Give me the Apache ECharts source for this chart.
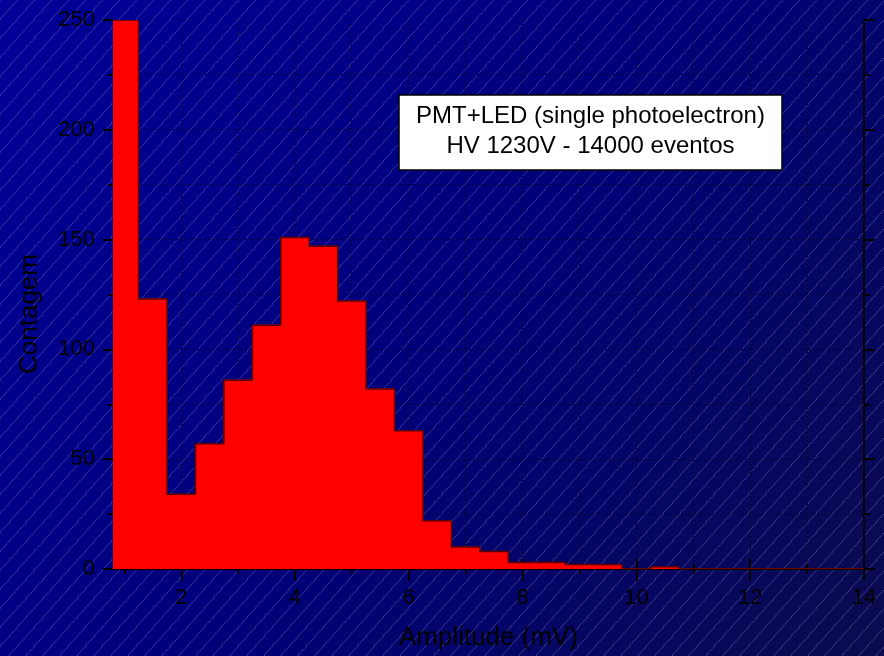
<!DOCTYPE html>
<html>
<head>
<meta charset="utf-8">
<script src="https://cdn.jsdelivr.net/npm/echarts@6/dist/echarts.min.js"></script>
<style>
  html, body { margin: 0; padding: 0; background: #000080; }
  #chart { width: 884px; height: 656px; }
</style>
</head>
<body>
<div id="chart"></div>
<script>
// Pulse-height histogram: bin centres (mV) and counted events per 0.5 mV bin
const binCenters = [1.0, 1.5, 2.0, 2.5, 3.0, 3.5, 4.0, 4.5, 5.0, 5.5, 6.0, 6.5, 7.0, 7.5,
                    8.0, 8.5, 9.0, 9.5, 10.0, 10.5, 11.0, 11.5, 12.0, 12.5, 13.0, 13.5, 14.0];
const counts     = [250, 123, 34, 57, 86, 111, 151, 147, 122, 82, 63, 22, 10, 8,
                    3, 3, 2, 2, 0, 1, 0, 0, 0, 0, 0, 0, 0];
const BIN_WIDTH = 0.5;

// Axis ranges, tick positions and dotted grid positions
const X_MIN = 0.8, X_MAX = 14;
const xMajorTicks = [2, 4, 6, 8, 10, 12, 14];
const xMinorTicks = [1, 2, 3, 4, 5, 6, 7, 8, 9, 10, 11, 12, 13];
const xGridValues = [1, 2, 3, 4, 5, 6, 7, 8, 9, 10, 11, 12, 13];
const Y_MIN = 0, Y_MAX = 250, Y_MAJOR = 50, Y_MINOR = 25;
const yGridValues = [25, 50, 75, 100, 125, 150, 175, 200, 225];

const titleText = ['PMT+LED (single photoelectron)', 'HV 1230V - 14000 eventos'];
const xName = 'Amplitude (mV)';
const yName = 'Contagem';

const FONT = '"Liberation Sans", Arial, Helvetica, sans-serif';
const W = 884, H = 656;

// Small repeating tile with one aliased 1px diagonal for the hatched backdrop
function hatchTile() {
  const w = 17, h = 19;
  const c = document.createElement('canvas');
  c.width = w; c.height = h;
  const g = c.getContext('2d');
  g.fillStyle = 'rgba(165,165,235,0.3)';
  for (let y = 0; y < h; y++) {
    const x = Math.round(w - (y + 0.5) * w / h);
    g.fillRect(((x % w) + w) % w, y, 1, 1);
  }
  return c;
}

// Each bin: a filled column plus the step outline (left riser from the previous bin, top edge)
function renderBin(params, api) {
  const i = params.dataIndex;
  const c = api.value(0), v = api.value(1);
  const prev = i > 0 ? counts[i - 1] : 0;
  const x0 = c - BIN_WIDTH / 2, x1 = c + BIN_WIDTH / 2;
  const pBL = api.coord([x0, 0]);
  const pTR = api.coord([x1, v]);
  const children = [{
    type: 'rect',
    shape: { x: pBL[0], y: pTR[1], width: pTR[0] - pBL[0], height: pBL[1] - pTR[1] },
    style: { fill: '#ff0000', stroke: '#ff0000', lineWidth: 1 }
  }];
  const pts = [api.coord([x0, prev]), api.coord([x0, v]), api.coord([x1, v])];
  if (i === counts.length - 1) pts.push(api.coord([x1, 0]));
  children.push({
    type: 'polyline',
    shape: { points: pts },
    style: { stroke: '#5a0000', lineWidth: 1.5, fill: null },
    z2: 5
  });
  return { type: 'group', children };
}

// Dotted grid lines, snapped to the pixel grid so every line stays crisp
const gridStyle = { stroke: '#000', lineWidth: 1, lineDash: [1, 3] };
function renderVGrid(params, api) {
  const v = api.value(0);
  const a = api.coord([v, Y_MAX]), b = api.coord([v, Y_MIN]);
  const x = Math.round(a[0] - 0.5) + 0.5;
  return { type: 'line', shape: { x1: x, y1: a[1], x2: x, y2: b[1] }, style: gridStyle };
}
function renderHGrid(params, api) {
  const v = api.value(1);
  const a = api.coord([X_MIN, v]), b = api.coord([X_MAX, v]);
  const y = Math.round(a[1] - 0.5) + 0.5;
  return { type: 'line', shape: { x1: a[0], y1: y, x2: b[0], y2: y }, style: gridStyle };
}

const tickStyle = { color: '#000', width: 2 };
const labelStyle = { color: '#000', fontSize: 22, fontFamily: FONT };

const xBase = { type: 'value', min: X_MIN, max: X_MAX, gridIndex: 0, splitLine: { show: false } };
const yBase = { type: 'value', min: Y_MIN, max: Y_MAX, gridIndex: 0, splitLine: { show: false } };

const option = {
  animation: false,
  backgroundColor: 'transparent',
  grid: { left: 113, right: 20, top: 20, bottom: 86, containLabel: false },
  xAxis: [
    Object.assign({}, xBase, {
      position: 'bottom',
      name: xName, nameLocation: 'middle', nameGap: 56,
      nameTextStyle: { color: '#000', fontSize: 26, fontFamily: FONT },
      axisLine: { show: false },
      axisTick: { show: true, length: 12, lineStyle: tickStyle, customValues: xMajorTicks },
      axisLabel: Object.assign({ show: true, margin: 18, customValues: xMajorTicks, hideOverlap: false }, labelStyle)
    }),
    Object.assign({}, xBase, {
      position: 'bottom',
      axisLine: { show: false },
      axisTick: { show: true, length: 5, lineStyle: tickStyle, customValues: xMinorTicks },
      axisLabel: { show: false }
    }),
    Object.assign({}, xBase, {
      position: 'top',
      axisLine: { show: true, lineStyle: { color: '#000', width: 2 } },
      axisTick: { show: true, length: 10, lineStyle: tickStyle, customValues: xMajorTicks },
      axisLabel: { show: false }
    }),
    Object.assign({}, xBase, {
      position: 'top',
      axisLine: { show: false },
      axisTick: { show: true, length: 5, lineStyle: tickStyle, customValues: xMinorTicks },
      axisLabel: { show: false }
    })
  ],
  yAxis: [
    Object.assign({}, yBase, {
      position: 'left', interval: Y_MAJOR,
      axisLine: { show: false },
      axisTick: { show: true, length: 10, lineStyle: tickStyle },
      axisLabel: Object.assign({ show: true, margin: 18 }, labelStyle)
    }),
    Object.assign({}, yBase, {
      position: 'left', interval: Y_MINOR,
      axisLine: { show: false },
      axisTick: { show: true, length: 5, lineStyle: tickStyle },
      axisLabel: { show: false }
    }),
    Object.assign({}, yBase, {
      position: 'right', interval: Y_MAJOR,
      axisLine: { show: true, lineStyle: { color: '#000', width: 2 } },
      axisTick: { show: true, length: 11, lineStyle: tickStyle },
      axisLabel: { show: false }
    }),
    Object.assign({}, yBase, {
      position: 'right', interval: Y_MINOR,
      axisLine: { show: false },
      axisTick: { show: true, length: 6, lineStyle: tickStyle },
      axisLabel: { show: false }
    })
  ],
  series: [
    {
      type: 'custom', xAxisIndex: 0, yAxisIndex: 0, silent: true, z: 1,
      renderItem: renderVGrid,
      data: xGridValues.map(v => [v, Y_MIN])
    },
    {
      type: 'custom', xAxisIndex: 0, yAxisIndex: 0, silent: true, z: 1,
      renderItem: renderHGrid,
      data: yGridValues.map(v => [X_MIN, v])
    },
    {
      type: 'custom', xAxisIndex: 0, yAxisIndex: 0, clip: true, z: 3,
      renderItem: renderBin,
      data: binCenters.map((c, i) => [c, counts[i]])
    }
  ],
  graphic: [
    {
      type: 'rect', z: -30, silent: true,
      shape: { x: 0, y: 0, width: W, height: H },
      style: {
        fill: new echarts.graphic.LinearGradient(0, 0, 1, 1, [
          { offset: 0, color: '#000098' },
          { offset: 0.5, color: '#00007a' },
          { offset: 1, color: '#0b0b4e' }
        ])
      }
    },
    {
      type: 'rect', z: -29, silent: true,
      shape: { x: 0, y: 0, width: W, height: H },
      style: { fill: { image: hatchTile(), repeat: 'repeat' } }
    },
    {
      type: 'text', z: 10, silent: true,
      x: 30, y: 314, rotation: Math.PI / 2,
      style: {
        text: yName, fill: '#000', font: '26px ' + FONT,
        align: 'center', verticalAlign: 'middle',
        textAlign: 'center', textVerticalAlign: 'middle'
      }
    },
    {
      type: 'rect', z: 100, silent: true,
      shape: { x: 399, y: 95, width: 383, height: 75 },
      style: { fill: '#ffffff', stroke: '#000', lineWidth: 1.5 }
    },
    {
      type: 'text', z: 101, silent: true,
      x: 590.5, y: 131,
      style: {
        text: titleText.join('\n'), fill: '#000', font: '24px ' + FONT,
        lineHeight: 30,
        align: 'center', verticalAlign: 'middle',
        textAlign: 'center', textVerticalAlign: 'middle'
      }
    }
  ]
};

const chart = echarts.init(document.getElementById('chart'), null, { renderer: 'canvas' });
chart.setOption(option);
</script>
</body>
</html>
